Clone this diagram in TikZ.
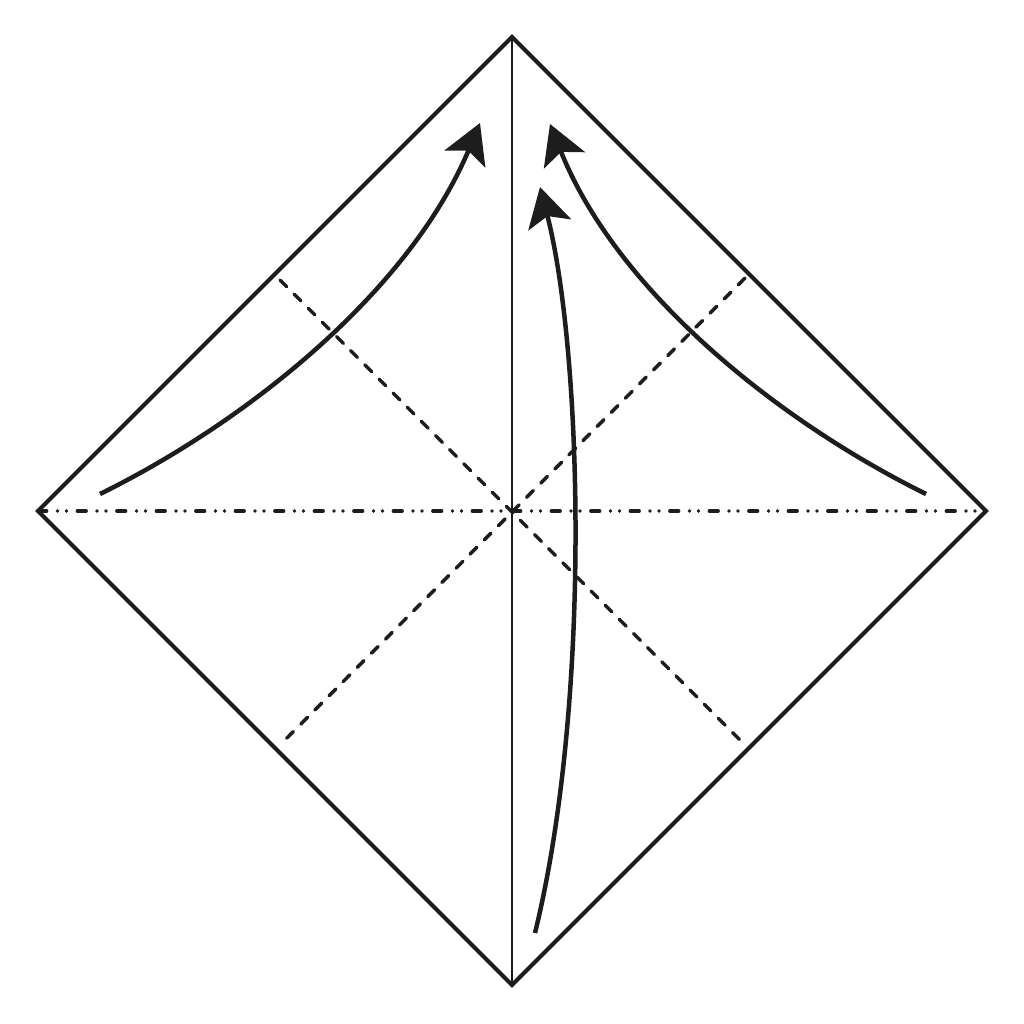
\documentclass[tikz,border=0pt]{standalone}
\usetikzlibrary{arrows.meta}
\definecolor{ink}{HTML}{1D1D1B}
\begin{document}
\begin{tikzpicture}[x=1pt,y=-1pt,
  edge/.style={draw=ink,line width=4.2pt,line join=miter},
  centerline/.style={draw=ink,line width=2.5pt},
  valley/.style={draw=ink,line width=3.5pt,line cap=round,dash pattern=on 9.5pt off 10.5pt},
  mountain/.style={draw=ink,line width=3.8pt,line cap=round,dash pattern=on 8.5pt off 11pt on 0pt off 9pt on 0pt off 11pt},
  movearrow/.style={draw=ink,line width=4.5pt,-{Stealth[length=39pt,width=44pt,inset=9pt]}}]
\useasboundingbox (0,0) rectangle (1024,1024);
\coordinate (T) at (512,37);
\coordinate (R) at (986,511);
\coordinate (B) at (512,985);
\coordinate (L) at (38,511);
\coordinate (d1a) at (280,280);
\coordinate (d1b) at (745,745);
\coordinate (d2a) at (745,278);
\coordinate (d2b) at (280,745);
\coordinate (a1s) at (100,494);
\coordinate (a1e) at (480,123);
\coordinate (a2s) at (926,494);
\coordinate (a2e) at (550,124);
\coordinate (a3s) at (535,933);
\coordinate (a3e) at (540,187);
\draw[edge] (T) -- (R) -- (B) -- (L) -- cycle;
\draw[centerline] (T) -- (B);
\draw[valley] (d1a) -- (d1b);
\draw[valley] (d2a) -- (d2b);
\draw[mountain] (L) -- (R);
\draw[movearrow] (a1s) .. controls (250,420) and (410,290) .. (a1e);
\draw[movearrow] (a2s) .. controls (776,420) and (616,290) .. (a2e);
\draw[movearrow] (a3s) .. controls (592,700) and (582,350) .. (a3e);
\end{tikzpicture}
\end{document}
